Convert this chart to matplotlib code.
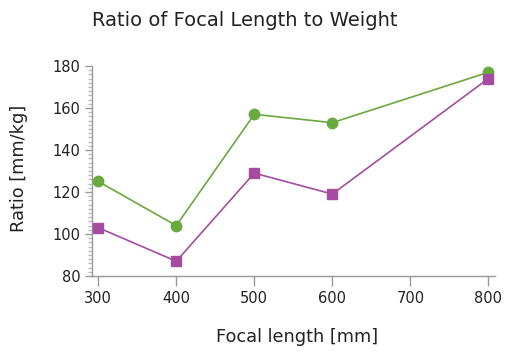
import matplotlib
matplotlib.use("Agg")
import matplotlib.pyplot as plt
from matplotlib.ticker import MultipleLocator

focal = [300, 400, 500, 600, 800]
ratio_green = [125, 104, 157, 153, 177]
ratio_purple = [103, 87, 129, 119, 174]
x_ticks = [300, 400, 500, 600, 700, 800]
y_ticks = [80, 100, 120, 140, 160, 180]

fig = plt.figure(figsize=(5.07, 3.52), dpi=100)
ax = fig.add_axes([0.1815, 0.216, 0.794, 0.5965])

green = "#6aa840"
purple = "#a64ca0"
ax.plot(focal, ratio_green, color=green, lw=1.2, marker="o", ms=7.5, zorder=3)
ax.plot(focal, ratio_purple, color=purple, lw=1.2, marker="s", ms=7.5, zorder=3)

ax.set_xlim(292, 808)
ax.set_ylim(80, 180)
ax.set_xticks(x_ticks)
ax.set_yticks(y_ticks)
ax.yaxis.set_minor_locator(MultipleLocator(2))

for s in ["top", "right"]:
    ax.spines[s].set_visible(False)
for s in ["left", "bottom"]:
    ax.spines[s].set_color("#999999")
    ax.spines[s].set_linewidth(1)

ax.tick_params(axis="x", colors="#999999", labelcolor="#222222", length=7, width=1, labelsize=10.5, pad=4)
ax.tick_params(axis="y", which="major", colors="#999999", labelcolor="#222222", length=5, width=1, labelsize=10.5)
ax.tick_params(axis="y", which="minor", colors="#bbbbbb", length=3, width=1)

fig.text(0.586, 1 - 337 / 352, "Focal length [mm]", fontsize=12.8, color="#222222", ha="center", va="center")
fig.text(19 / 507, 1 - 168 / 352, "Ratio [mm/kg]", fontsize=12.8, color="#222222", ha="center", va="center", rotation=90)
fig.text(245 / 507, 1 - 20 / 352, "Ratio of Focal Length to Weight", fontsize=14, color="#222222", ha="center", va="center")

fig.savefig("out.png", dpi=100)
